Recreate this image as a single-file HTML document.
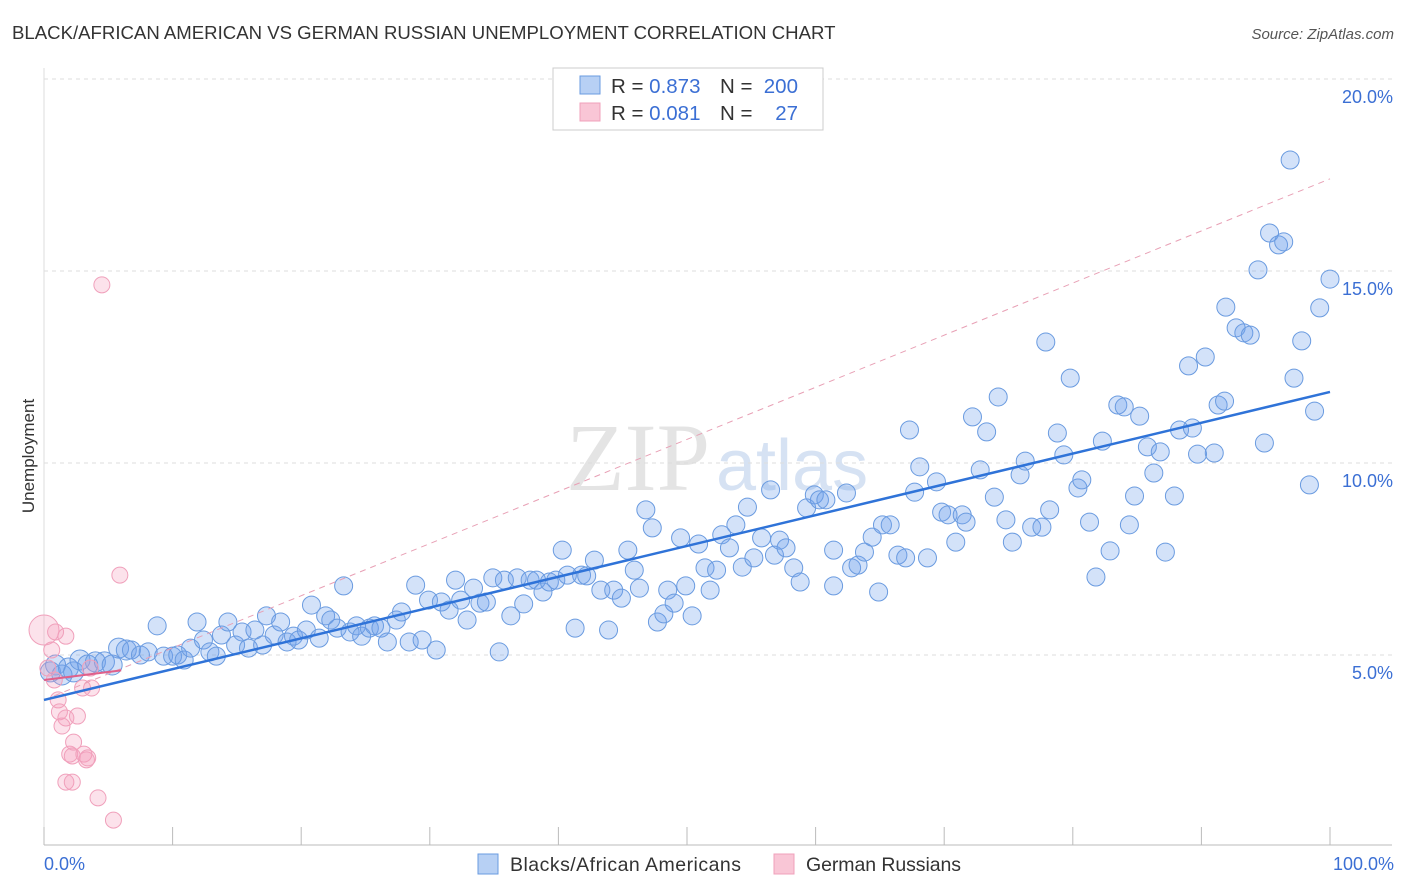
<!DOCTYPE html>
<html><head><meta charset="utf-8"><style>
body{margin:0;background:#fff;font-family:"Liberation Sans",sans-serif;}
svg{display:block}
</style></head><body>
<svg id="c" width="1406" height="892">
<text x="12" y="39" font-size="18.6" fill="#333">BLACK/AFRICAN AMERICAN VS GERMAN RUSSIAN UNEMPLOYMENT CORRELATION CHART</text>
<text x="1394" y="39" font-size="15" fill="#555" font-style="italic" text-anchor="end">Source: ZipAtlas.com</text>
<text x="34" y="456" font-size="17" fill="#333" text-anchor="middle" transform="rotate(-90 34 456)">Unemployment</text>
<text x="710" y="490" font-size="96" fill="#e4e4e4" font-family="Liberation Serif,serif" text-anchor="end">ZIP</text>
<text x="716" y="490" font-size="72" fill="#d6e2f3" text-anchor="start">atlas</text>
<g id="grid"></g><g id="pts"></g><g id="lines"></g>
<g>
<rect x="553" y="68" width="270" height="62" fill="#fff" stroke="#ccc"/>
<rect x="580" y="76" width="20" height="18" fill="#b7d0f4" stroke="#6a9be0"/>
<rect x="580" y="103" width="20" height="18" fill="#f9c6d6" stroke="#f0a0bb"/>
<text x="611" y="93" font-size="20.5" fill="#333">R = <tspan fill="#3b6fd4">0.873</tspan></text>
<text x="720" y="93" font-size="20.5" fill="#333">N =</text>
<text x="798" y="93" font-size="20.5" fill="#3b6fd4" text-anchor="end">200</text>
<text x="611" y="120" font-size="20.5" fill="#333">R = <tspan fill="#3b6fd4">0.081</tspan></text>
<text x="720" y="120" font-size="20.5" fill="#333">N =</text>
<text x="798" y="120" font-size="20.5" fill="#3b6fd4" text-anchor="end">27</text>
</g>
<g>
<rect x="478" y="854" width="20" height="20" fill="#b7d0f4" stroke="#6a9be0"/>
<text x="510" y="871" font-size="19.5" fill="#333" textLength="231">Blacks/African Americans</text>
<rect x="774" y="854" width="20" height="20" fill="#f9c6d6" stroke="#f0a0bb"/>
<text x="806" y="871" font-size="19.5" fill="#333" textLength="155">German Russians</text>
</g>
</svg>
<script>
const xTicks=[0,10,20,30,40,50,60,70,80,90,100];
const yTicks=[5,10,15,20];
const yTickLabels=["5.0%","10.0%","15.0%","20.0%"];
const blueX=[0.5,0.9,1.4,1.9,2.3,2.8,3.4,4.0,4.7,5.3,5.8,6.4,6.8,7.5,8.1,8.8,9.3,10.0,10.4,10.9,11.4,11.9,12.4,12.9,13.4,13.8,14.3,14.9,15.4,15.9,16.4,17.0,17.3,17.9,18.4,18.9,19.4,19.8,20.4,20.8,21.4,21.9,22.3,22.8,23.3,23.8,24.3,24.7,25.3,25.7,26.2,26.7,27.4,27.8,28.4,28.9,29.4,29.9,30.5,30.9,31.5,32.0,32.4,32.9,33.4,33.9,34.4,34.9,35.4,35.8,36.3,36.8,37.3,37.8,38.3,38.8,39.3,39.8,40.3,40.7,41.3,41.8,42.2,42.8,43.3,43.9,44.3,44.9,45.4,45.9,46.3,46.8,47.3,47.7,48.2,48.5,49.0,49.5,49.9,50.4,50.9,51.4,51.8,52.3,52.7,53.3,53.8,54.3,54.7,55.2,55.8,56.5,56.8,57.2,57.7,58.3,58.8,59.3,59.9,60.3,60.8,61.4,61.4,62.4,62.8,63.3,63.8,64.4,64.9,65.2,65.8,66.4,67.0,67.3,67.7,68.1,68.7,69.4,69.8,70.3,70.9,71.4,71.7,72.2,72.8,73.3,73.9,74.2,74.8,75.3,75.9,76.3,76.8,77.6,77.9,78.2,78.8,79.3,79.8,80.4,80.7,81.3,81.8,82.3,82.9,83.5,84.0,84.4,84.8,85.2,85.8,86.3,86.8,87.2,87.9,88.3,89.0,89.3,89.7,90.3,91.0,91.3,91.8,91.9,92.7,93.3,93.8,94.4,94.9,95.3,96.0,96.4,96.9,97.2,97.8,98.4,98.8,99.2,100.0];
const blueY=[4.56,4.74,4.48,4.66,4.56,4.87,4.74,4.82,4.82,4.74,5.18,5.13,5.13,5.00,5.08,5.76,4.97,4.97,5.00,4.87,5.18,5.86,5.39,5.08,4.97,5.52,5.86,5.26,5.60,5.18,5.65,5.26,6.02,5.52,5.86,5.34,5.49,5.39,5.65,6.30,5.44,6.02,5.91,5.70,6.80,5.60,5.76,5.49,5.70,5.76,5.70,5.34,5.91,6.12,5.34,6.82,5.39,6.43,5.13,6.38,6.17,6.95,6.43,5.91,6.74,6.35,6.38,7.01,5.08,6.95,6.02,7.01,6.33,6.95,6.95,6.64,6.90,6.95,7.73,7.08,5.70,7.08,7.06,7.47,6.69,5.65,6.69,6.48,7.73,7.21,6.74,8.78,8.31,5.86,6.07,6.69,6.35,8.05,6.80,6.02,7.89,7.27,6.69,7.21,8.13,7.79,8.39,7.29,8.85,7.53,8.05,9.30,7.60,7.99,7.79,7.27,6.90,8.83,9.17,9.04,9.04,7.73,6.80,9.22,7.27,7.34,7.68,8.07,6.64,8.39,8.39,7.60,7.53,10.86,9.24,9.90,7.53,9.51,8.72,8.65,7.94,8.65,8.46,11.20,9.82,10.81,9.11,11.72,8.52,7.94,9.69,10.05,8.33,8.33,13.15,8.78,10.78,10.21,12.21,9.35,9.56,8.46,7.03,10.57,7.71,11.51,11.46,8.39,9.14,11.22,10.42,9.74,10.29,7.68,9.14,10.86,12.53,10.91,10.23,12.76,10.26,11.51,11.61,14.06,13.52,13.39,13.33,15.03,10.52,15.99,15.68,15.76,17.89,12.21,13.18,9.43,11.35,14.04,14.79];
const pinkX=[0,0.3,0.6,0.8,1.1,1.2,1.4,1.7,1.7,2.0,2.2,2.3,2.6,3.0,3.1,3.3,3.4,3.6,3.7,4.2,4.5,5.4,5.9,1.7,2.2,0.9];
const pinkY=[5.65,4.66,5.13,4.35,3.83,3.52,3.15,3.36,5.49,2.42,2.37,2.73,3.41,4.14,2.42,2.27,2.32,4.66,4.14,1.28,14.64,0.70,7.08,1.69,1.69,5.60];
const blueTrend=[3.83,11.85];
const pinkTrend=[4.35,4.6];
const pinkDash=[3.83,17.4];
const NS="http://www.w3.org/2000/svg";
const X=v=>44+v*12.86, Y=v=>847-v*38.4;
function mk(t,a,p){const e=document.createElementNS(NS,t);for(const k in a)e.setAttribute(k,a[k]);p.appendChild(e);return e;}
const g=document.getElementById('grid');
yTicks.forEach((t,i)=>{
 const l=mk('line',{x1:44,x2:1392,y1:Y(t),y2:Y(t),stroke:'#ddd','stroke-dasharray':'4,4'},g);
 
 
 const tx=mk('text',{x:1393,y:Y(t)+24,'font-size':18,fill:'#3b6fd4','text-anchor':'end'},g);
 tx.textContent=yTickLabels[i];
 
 
});
const tl=mk('line',{x1:44,x2:1392,y1:79,y2:79,stroke:'#ddd','stroke-dasharray':'4,4'},g);


const ax=mk('line',{x1:44,x2:1392,y1:845,y2:845,stroke:'#bbb'},g);


const ay=mk('line',{x1:44,x2:44,y1:68,y2:845,stroke:'#ddd'},g);


xTicks.forEach(t=>{
 const l=mk('line',{x1:X(t),x2:X(t),y1:827,y2:845,stroke:'#bbb'},g);
 
 
});
[[0,'0.0%','start',44],[100,'100.0%','end',1394]].forEach(a=>{
 const tx=mk('text',{x:a[3],y:870,'font-size':18,fill:'#3b6fd4','text-anchor':a[2]},g);
 tx.textContent=a[1];
 
 
});
const p=document.getElementById('pts');
blueX.forEach((v,i)=>{
 const c=mk('circle',{cx:X(v),cy:Y(blueY[i]),r:i<12?10:9,fill:'rgba(110,160,235,0.3)',stroke:'#6a9be0','stroke-width':1},p);
 
 
});
pinkX.forEach((v,i)=>{
 const c=mk('circle',{cx:X(v),cy:Y(pinkY[i]),r:i==0?15:8,fill:'rgba(245,160,190,0.3)',stroke:'#f0a0bb','stroke-width':1},p);
 
 
});
const L=document.getElementById('lines');
const d=mk('line',{x1:X(0),y1:Y(pinkDash[0]),x2:X(100),y2:Y(pinkDash[1]),stroke:'#e8a0b5','stroke-dasharray':'6,5','stroke-width':1},L);


const b=mk('line',{x1:X(0),y1:Y(blueTrend[0]),x2:X(100),y2:Y(blueTrend[1]),stroke:'#2f73d8','stroke-width':2.5},L);


const pk=mk('line',{x1:X(0),y1:Y(pinkTrend[0]),x2:X(6),y2:Y(pinkTrend[1]),stroke:'#e0608a','stroke-width':2},L);


</script>
</body></html>
